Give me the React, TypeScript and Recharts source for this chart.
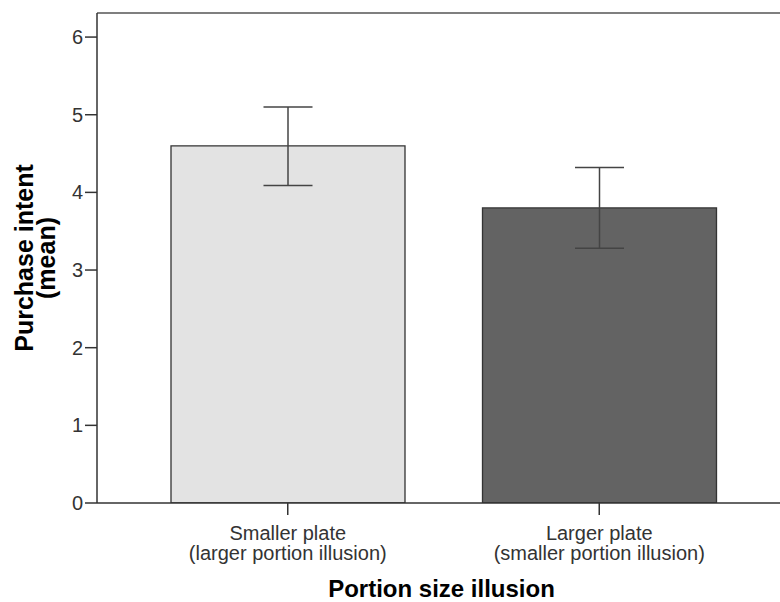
import React from "react";
import { BarChart, Bar, XAxis, YAxis, ErrorBar, Cell, ReferenceLine } from "recharts";

const categories = ["Smaller plate", "Larger plate"];
const categoryNotes = ["(larger portion illusion)", "(smaller portion illusion)"];
const means = [4.6, 3.8];
const ciLower = [4.09, 3.28];
const ciUpper = [5.1, 4.32];
const barColors = ["#e3e3e3", "#636363"];
const yTicks = [0, 1, 2, 3, 4, 5, 6];
const yMax = 6.31;

const data = categories.map((c, i) => ({
  name: c,
  note: categoryNotes[i],
  mean: means[i],
  err: [means[i] - ciLower[i], ciUpper[i] - means[i]],
}));

const FONT = "'Liberation Sans', Arial, sans-serif";

const XTick = (props: any) => {
  const { x, y, payload, index } = props;
  const note = categoryNotes[categories.indexOf(payload.value)] ?? categoryNotes[index];
  return (
    <g>
      <text x={x} y={y + 23} textAnchor="middle" fontSize={20} fill="#333" fontFamily={FONT}>
        {payload.value}
      </text>
      <text x={x} y={y + 43} textAnchor="middle" fontSize={20} fill="#333" fontFamily={FONT}>
        {note}
      </text>
    </g>
  );
};

const YTitle = (props: any) => {
  const vb = props.viewBox || { y: 13, height: 490 };
  const cy = vb.y + vb.height / 2;
  return (
    <g>
      <text x={33} y={cy} transform={`rotate(-90, 33, ${cy})`} textAnchor="middle" fontSize={25} fontWeight="bold" fill="#000" fontFamily={FONT}>
        Purchase intent
      </text>
      <text x={55} y={cy} transform={`rotate(-90, 55, ${cy})`} textAnchor="middle" fontSize={25} fontWeight="bold" fill="#000" fontFamily={FONT}>
        (mean)
      </text>
    </g>
  );
};

const XTitle = (props: any) => {
  const vb = props.viewBox || { x: 97, width: 683 };
  const cx = vb.x + vb.width / 2 + 3;
  return (
    <text x={cx} y={597} textAnchor="middle" fontSize={24} fontWeight="bold" fill="#000" fontFamily={FONT}>
      Portion size illusion
    </text>
  );
};

export default function App() {
  return (
    <div style={{ position: "absolute", left: 0, top: 0, width: 780, height: 602, background: "#fff" }}>
      <BarChart
        width={780}
        height={602}
        data={data}
        margin={{ top: 13, right: 0, left: 0, bottom: 0 }}
        barSize={234}
      >
        <XAxis
          dataKey="name"
          height={99}
          padding={{ left: 35, right: 25 }}
          stroke="#333"
          strokeWidth={1.5}
          tickSize={12}
          tickLine={{ stroke: "#333", strokeWidth: 1.5 }}
          tick={<XTick />}
          interval={0}
          label={<XTitle />}
        />
        <YAxis
          width={97}
          domain={[0, yMax]}
          ticks={yTicks}
          allowDataOverflow
          stroke="#333"
          strokeWidth={1.5}
          tickSize={12}
          tickMargin={2}
          tick={{ fontSize: 20, fill: "#333", fontFamily: FONT }}
          label={<YTitle />}
        />
        <ReferenceLine y={yMax} stroke="#555" strokeWidth={1.5} ifOverflow="visible" />
        <Bar dataKey="mean" stroke="#333" strokeWidth={1.3} isAnimationActive={false}>
          {data.map((d, i) => (
            <Cell key={d.name} fill={barColors[i]} />
          ))}
          <ErrorBar dataKey="err" width={24.5} stroke="#444" strokeWidth={1.5} direction="y" isAnimationActive={false} />
        </Bar>
      </BarChart>
    </div>
  );
}
